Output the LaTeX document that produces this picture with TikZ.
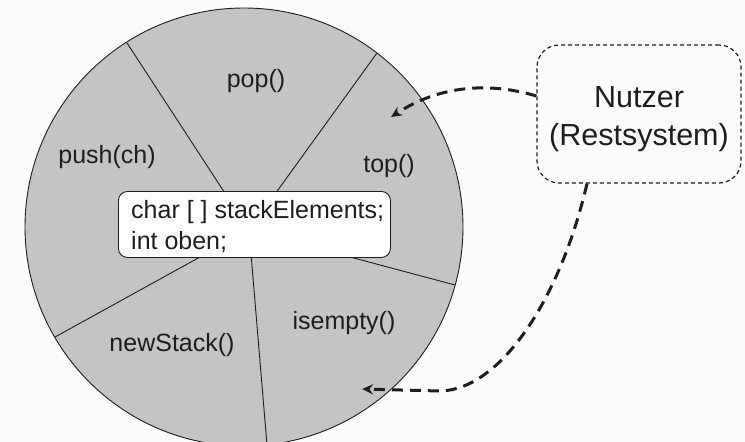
\documentclass[tikz,border=0pt]{standalone}
\usepackage{fontspec}
\setmainfont{Liberation Sans}
\usetikzlibrary{arrows.meta}
\definecolor{bg}{HTML}{FCFCFC}
\definecolor{wedge}{HTML}{C4C4C4}
\definecolor{ink}{HTML}{1E1E1E}
\begin{document}
\begin{tikzpicture}[x=1pt,y=-1pt,
  lbl/.style={anchor=base, inner sep=0pt, text=ink, font=\fontsize{25}{31}\selectfont},
  divider/.style={draw=ink, line width=0.9pt},
  flow/.style={draw=ink, line width=3pt, dash pattern=on 11pt off 7pt, -{Stealth[length=11pt,width=10pt]}},
  codebox/.style={draw=ink, fill=white, rounded corners=9pt, line width=0.9pt, minimum width=272pt, minimum height=66pt, anchor=north west, inner sep=0pt},
  userbox/.style={draw=ink, dash pattern=on 4pt off 3pt, line width=1.2pt, rounded corners=22pt, minimum width=204pt, minimum height=138pt, inner sep=0pt}
]
\fill[bg] (0,0) rectangle (745,442);
\useasboundingbox (0,0) rectangle (745,442);

% circle
\coordinate (c) at (244,227);
\filldraw[fill=wedge, draw=ink, line width=0.9pt] (c) circle[radius=219pt];

% dividers
\coordinate (hub) at (249,230);
\coordinate (p1) at (127,43);
\coordinate (p2) at (377,53);
\coordinate (p3) at (455,285);
\coordinate (p4) at (267,445);
\coordinate (p5) at (55,337);
\draw[divider] (hub) -- (p1);
\draw[divider] (hub) -- (p2);
\draw[divider] (hub) -- (p3);
\draw[divider] (hub) -- (p4);
\draw[divider] (hub) -- (p5);

% labels
\node[lbl] (pop) at (256,87) {pop()};
\node[lbl] (push) at (107,163) {push(ch)};
\node[lbl] (top) at (389,172) {top()};
\node[lbl] (newstack) at (172,351) {newStack()};
\node[lbl] (isempty) at (344,329) {isempty()};

% code box
\node[codebox] (code) at (118,191) {};
\node[anchor=north west, inner sep=0pt, align=left, text=ink, font=\fontsize{25}{31}\selectfont] (codetext) at (131,200) {char [ ] stackElements;\\int oben;};

% user box
\node[userbox] (nutzer) at (639,114) {};
\node[anchor=north, inner sep=0pt, align=center, text=ink, font=\fontsize{30.5}{38}\selectfont] (nutzertext) at (639,86) {Nutzer\\(Restsystem)};

% arrows
\coordinate (topin) at (391,117);
\coordinate (emptyin) at (362,389);
\draw[flow] ([yshift=18pt]nutzer.west) .. controls (490,82) and (440,85) .. (topin);
\draw[flow] ([xshift=-52pt]nutzer.south) .. controls (560,300) and (500,390) .. (440,391) -- (emptyin);
\end{tikzpicture}
\end{document}
